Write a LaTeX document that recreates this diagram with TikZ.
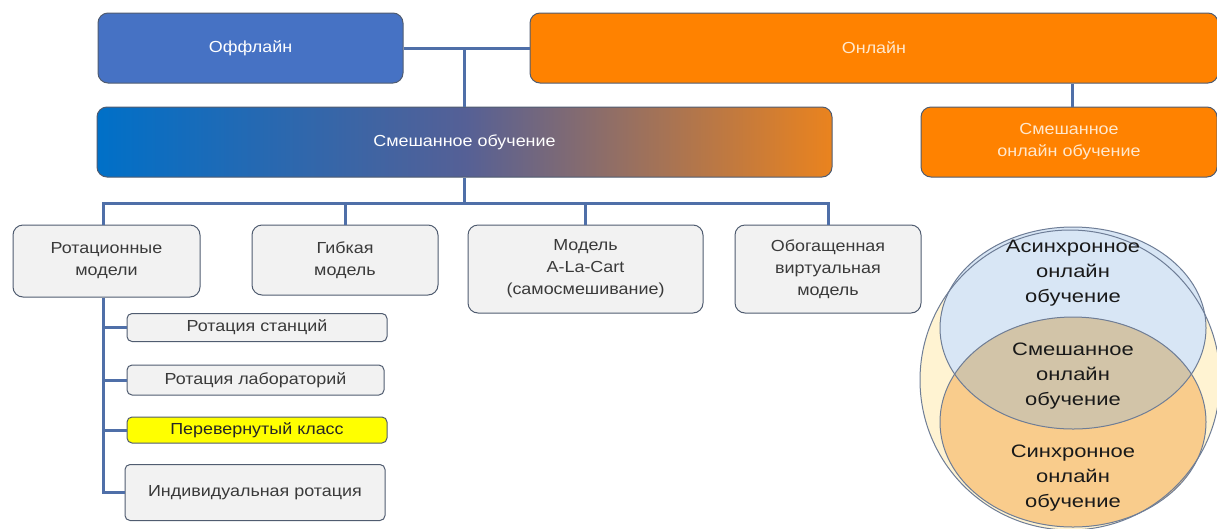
\documentclass[tikz,border=0pt]{standalone}
\usepackage{fontspec}
\setmainfont[FakeStretch=1.12]{Liberation Sans}
\newfontfamily\vennfont[FakeStretch=1.22]{Liberation Sans}
\definecolor{offblue}{RGB}{70,114,196}
\definecolor{onorange}{RGB}{255,130,0}
\definecolor{ontext}{RGB}{255,232,205}
\definecolor{conn}{RGB}{79,111,168}
\definecolor{bord}{RGB}{80,92,112}
\definecolor{greyfill}{RGB}{242,242,242}
\definecolor{greytext}{RGB}{58,58,58}
\definecolor{yel}{RGB}{255,255,0}
\definecolor{outerfill}{RGB}{255,243,210}
\definecolor{bluefill}{RGB}{216,230,245}
\definecolor{orfill}{RGB}{249,204,140}
\definecolor{intfill}{RGB}{210,196,168}
\definecolor{vline}{RGB}{110,125,150}
\definecolor{gleft}{RGB}{0,112,200}
\definecolor{gmid}{RGB}{85,96,150}
\definecolor{gright}{RGB}{234,131,30}
\begin{document}
\begin{tikzpicture}[x=1pt,y=-1pt,
  bigbox/.style={draw=bord, line width=1pt, rounded corners=10pt, align=center,
    text=white, font=\fontsize{16}{22}\selectfont},
  greybox/.style={draw=bord, line width=1pt, rounded corners=10pt, align=center,
    fill=greyfill, text=greytext, font=\fontsize{16}{22}\selectfont},
  subbox/.style={draw=bord, line width=1pt, rounded corners=5pt, align=center,
    fill=greyfill, text=greytext, font=\fontsize{16}{22}\selectfont},
  connector/.style={draw=conn, line width=3pt},
  venntext/.style={align=center, text=black!90, font=\vennfont\fontsize{18}{25}\selectfont},
  vennline/.style={draw=vline, line width=1pt}]
\useasboundingbox (0,0) rectangle (1217,528);
% top level
\node[bigbox, fill=offblue, minimum width=305pt, minimum height=70pt] (off) at (250.5,48) {Оффлайн};
\node[bigbox, fill=onorange, text=ontext, minimum width=688pt, minimum height=70pt] (on) at (874,48) {Онлайн};
\node[bigbox, left color=gleft, right color=gright, middle color=gmid, minimum width=735pt, minimum height=70pt] (mix) at (464.5,142) {Смешанное обучение};
\node[bigbox, fill=onorange, text=ontext, minimum width=296pt, minimum height=70pt] (mixon) at (1069,142) {Смешанное\\онлайн обучение};
% models
\node[greybox, minimum width=187pt, minimum height=72pt] (rot) at (106.5,261) {Ротационные\\модели};
\node[greybox, minimum width=186pt, minimum height=70pt] (gib) at (345,260) {Гибкая\\модель};
\node[greybox, minimum width=235pt, minimum height=88pt] (ala) at (585.5,269) {Модель\\A-La-Cart\\(самосмешивание)};
\node[greybox, minimum width=186pt, minimum height=88pt] (obog) at (828,269) {Обогащенная\\виртуальная\\модель};
% sub list
\node[subbox, minimum width=260pt, minimum height=28pt] (st) at (257,327.5) {Ротация станций};
\node[subbox, minimum width=257pt, minimum height=30pt] (lab) at (255.5,380) {Ротация лабораторий};
\node[subbox, fill=yel, text=black!85, minimum width=260pt, minimum height=26pt] (per) at (257,430) {Перевернутый класс};
\node[subbox, minimum width=260pt, minimum height=56pt] (ind) at (255,492.5) {Индивидуальная ротация};
% connectors
\coordinate (bus) at (0,203);
\coordinate (trunk) at ([xshift=-3.5pt]rot.south);
\draw[connector] (off.east) -- (on.west);
\draw[connector] (mix.north |- off.east) -- (mix.north);
\draw[connector] ([xshift=3pt]mixon.north |- on.south) -- ([xshift=3pt]mixon.north);
\draw[connector] (mix.south) -- (mix.south |- bus);
\draw[connector] ([xshift=-3.5pt]rot.north) -- ([xshift=-3.5pt]rot.north |- bus) -- (obog.north |- bus) -- (obog.north);
\draw[connector] (gib.north |- bus) -- (gib.north);
\draw[connector] (ala.north |- bus) -- (ala.north);
\draw[connector] (trunk) |- (ind.west);
\draw[connector] (trunk |- st.west) -- (st.west);
\draw[connector] (trunk |- lab.west) -- (lab.west);
\draw[connector] (trunk |- per.west) -- (per.west);
% Venn
\fill[outerfill] (1070,380) circle (150);
\fill[bluefill] (1073,328) ellipse [x radius=133, y radius=101];
\fill[orfill] (1073,422) ellipse [x radius=133, y radius=105];
\begin{scope}
\clip (1073,328) ellipse [x radius=133, y radius=101];
\fill[intfill] (1073,422) ellipse [x radius=133, y radius=105];
\end{scope}
\draw[vennline] (1070,380) circle (150);
\draw[vennline] (1073,328) ellipse [x radius=133, y radius=101];
\draw[vennline] (1073,422) ellipse [x radius=133, y radius=105];
\node[venntext] (async) at (1073,273) {Асинхронное\\онлайн\\обучение};
\node[venntext] (blend) at (1073,376) {Смешанное\\онлайн\\обучение};
\node[venntext] (sync) at (1073,478) {Синхронное\\онлайн\\обучение};
\end{tikzpicture}
\end{document}
